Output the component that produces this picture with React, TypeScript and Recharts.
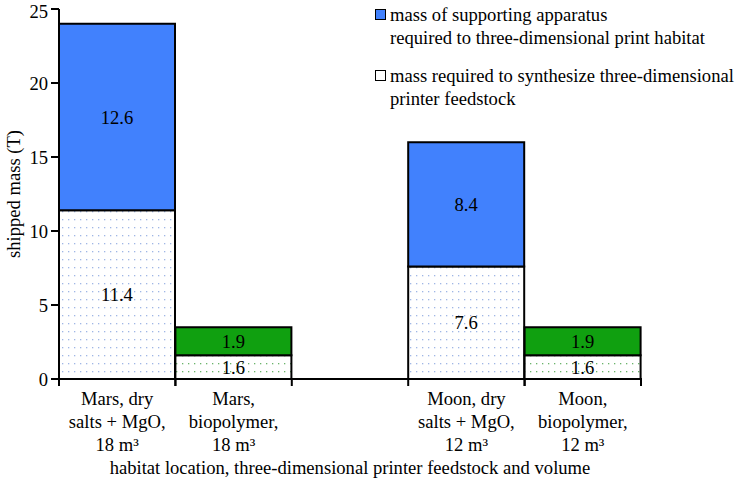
import { BarChart, Bar, XAxis, YAxis, Cell, LabelList, Label } from "recharts";

const categories = [
  "Mars, dry\nsalts + MgO,\n18 m³",
  "Mars,\nbiopolymer,\n18 m³",
  "",
  "Moon, dry\nsalts + MgO,\n12 m³",
  "Moon,\nbiopolymer,\n12 m³",
];
const feedstockMass = [11.4, 1.6, null, 7.6, 1.6];
const apparatusMass = [12.6, 1.9, null, 8.4, 1.9];
const feedstockType = ["salts", "bio", "", "salts", "bio"];
const yTicks = [0, 5, 10, 15, 20, 25];
const legendApparatus = ["mass of supporting apparatus", "required to three-dimensional print habitat"];
const legendFeedstock = ["mass required to synthesize three-dimensional", "printer feedstock"];

const data = categories.map((c, i) => ({
  name: c,
  feedstock: feedstockMass[i],
  apparatus: apparatusMass[i],
  type: feedstockType[i],
}));

const FONT = "'Liberation Serif', 'Times New Roman', serif";
const FS = 18.6;
const BLUE = "#4181fd";
const GREEN = "#10a010";
const W = 741;
const H = 481;
const M = { top: 9, right: 100, left: 9, bottom: 0 };
const Y_W = 50;
const BAND = (W - M.left - Y_W - M.right) / categories.length;

function XTick(props: any) {
  const { x, y, payload } = props;
  if (!payload.value) return null;
  const lines = String(payload.value).split("\n");
  return (
    <g>
      <line x1={x - BAND / 2} x2={x - BAND / 2} y1={y - 1} y2={y + 7} stroke="#000" strokeWidth={2} />
      <line x1={x + BAND / 2} x2={x + BAND / 2} y1={y - 1} y2={y + 7} stroke="#000" strokeWidth={2} />
      {lines.map((l, i) => (
        <text key={i} x={x} y={y + 26 + i * 23} textAnchor="middle" fontFamily={FONT} fontSize={FS} fill="#000">
          {l}
        </text>
      ))}
    </g>
  );
}

function LegendItem({ color, lines }: { color: string; lines: string[] }) {
  return (
    <div style={{ display: "flex", alignItems: "flex-start", marginBottom: 15 }}>
      <div style={{ width: 9, height: 9, border: "1.5px solid #000", background: color, marginTop: 6.5, marginRight: 4, flexShrink: 0 }} />
      <div style={{ fontFamily: FONT, fontSize: FS, lineHeight: "23px", color: "#000", whiteSpace: "nowrap" }}>
        {lines.map((l, i) => (
          <div key={i}>{l}</div>
        ))}
      </div>
    </div>
  );
}

export default function App() {
  return (
    <div style={{ position: "absolute", left: 0, top: 0, width: W, height: H, background: "#fff" }}>
      <svg width={0} height={0} style={{ position: "absolute" }}>
        <defs>
          <pattern id="dotsBlue" width={6} height={8} patternUnits="userSpaceOnUse">
            <rect width={6} height={8} fill="#fff" />
            <rect x={2} y={3} width={1.3} height={1.3} fill="#9fb6e6" />
          </pattern>
          <pattern id="dotsGreen" width={6} height={8} patternUnits="userSpaceOnUse">
            <rect width={6} height={8} fill="#fff" />
            <rect x={2} y={3} width={1.3} height={1.3} fill="#6ab46a" />
          </pattern>
        </defs>
      </svg>
      <BarChart width={W} height={H} data={data} margin={M} barCategoryGap={0} barGap={0}>
        <XAxis
          dataKey="name"
          tick={<XTick />}
          tickLine={false}
          tickSize={0}
          tickMargin={0}
          interval={0}
          height={102}
          axisLine={{ stroke: "#000", strokeWidth: 2 }}
        >
          <Label
            content={({ viewBox }: any) => (
              <text x={viewBox.x + viewBox.width / 2} y={viewBox.y + 95} textAnchor="middle" fontFamily={FONT} fontSize={FS} fill="#000">
                habitat location, three-dimensional printer feedstock and volume
              </text>
            )}
          />
        </XAxis>
        <YAxis
          width={Y_W}
          domain={[0, 25]}
          ticks={yTicks}
          tickSize={8}
          tickMargin={3}
          axisLine={{ stroke: "#000", strokeWidth: 2 }}
          tickLine={{ stroke: "#000", strokeWidth: 2 }}
          tick={{ fontFamily: FONT, fontSize: FS, fill: "#000" }}
        >
          <Label
            content={({ viewBox }: any) => {
              const cx = 13;
              const cy = viewBox.y + viewBox.height / 2;
              return (
                <text x={cx} y={cy} transform={`rotate(-90 ${cx} ${cy})`} textAnchor="middle" dominantBaseline="central" fontFamily={FONT} fontSize={FS} fill="#000">
                  shipped mass (T)
                </text>
              );
            }}
          />
        </YAxis>
        <Bar dataKey="feedstock" stackId="m" stroke="#000" strokeWidth={2} isAnimationActive={false}>
          {data.map((d, i) => (
            <Cell key={i} fill={d.type === "bio" ? "url(#dotsGreen)" : "url(#dotsBlue)"} />
          ))}
          <LabelList dataKey="feedstock" position="center" style={{ fontFamily: FONT, fontSize: FS, fill: "#000" }} />
        </Bar>
        <Bar dataKey="apparatus" stackId="m" stroke="#000" strokeWidth={2} isAnimationActive={false}>
          {data.map((d, i) => (
            <Cell key={i} fill={d.type === "bio" ? GREEN : BLUE} />
          ))}
          <LabelList dataKey="apparatus" position="center" style={{ fontFamily: FONT, fontSize: FS, fill: "#000" }} />
        </Bar>
      </BarChart>
      <div style={{ position: "absolute", left: 375, top: 2.5 }}>
        <LegendItem color={BLUE} lines={legendApparatus} />
        <LegendItem color="#fff" lines={legendFeedstock} />
      </div>
    </div>
  );
}
